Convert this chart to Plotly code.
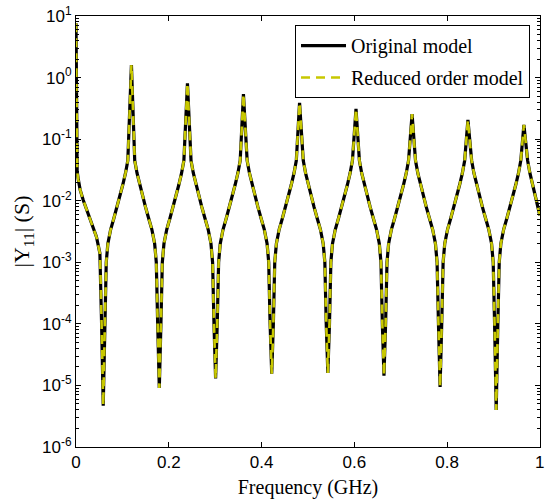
import plotly.graph_objects as go

# |Y11| of the interconnect versus frequency, listed peak -> trough -> peak
freq_ghz = [
    0.0, 0.0014, 0.0025, 0.005, 0.009, 0.0157, 0.022, 0.030, 0.037, 0.044, 0.0515, 0.0522, 0.0552, 0.0587,
    0.0622, 0.0652, 0.0687, 0.0747, 0.0817, 0.0887, 0.0947, 0.1007, 0.1067, 0.1117, 0.1195,
    0.1266, 0.1316, 0.1376, 0.1436, 0.1496, 0.1566, 0.1636, 0.1696, 0.1731, 0.1761, 0.1796,
    0.1831, 0.1861, 0.1896, 0.1956, 0.2026, 0.2096, 0.2156, 0.2216, 0.2276, 0.2326, 0.2403,
    0.248, 0.253, 0.259, 0.265, 0.271, 0.278, 0.285, 0.291, 0.2945, 0.2975, 0.301,
    0.3045, 0.3075, 0.311, 0.317, 0.324, 0.331, 0.337, 0.343, 0.349, 0.354, 0.361,
    0.369, 0.374, 0.380, 0.386, 0.392, 0.399, 0.406, 0.412, 0.4155, 0.4185, 0.422,
    0.4255, 0.4285, 0.432, 0.438, 0.445, 0.452, 0.458, 0.464, 0.470, 0.475, 0.482,
    0.490, 0.495, 0.501, 0.507, 0.513, 0.520, 0.527, 0.533, 0.5365, 0.5395, 0.543,
    0.5465, 0.5495, 0.553, 0.559, 0.566, 0.573, 0.579, 0.585, 0.591, 0.596, 0.6037,
    0.611, 0.616, 0.622, 0.628, 0.634, 0.641, 0.648, 0.654, 0.6575, 0.6605, 0.664,
    0.6675, 0.6705, 0.674, 0.680, 0.687, 0.694, 0.700, 0.706, 0.712, 0.717, 0.7246,
    0.732, 0.737, 0.743, 0.749, 0.755, 0.762, 0.769, 0.775, 0.7785, 0.7815, 0.785,
    0.7885, 0.7915, 0.795, 0.801, 0.808, 0.815, 0.821, 0.827, 0.833, 0.838, 0.845,
    0.853, 0.858, 0.864, 0.870, 0.876, 0.883, 0.890, 0.896, 0.8995, 0.9025, 0.906,
    0.9095, 0.9125, 0.916, 0.922, 0.929, 0.936, 0.942, 0.948, 0.954, 0.959, 0.9657,
    0.9737, 0.9787, 0.9847, 0.9907, 1.0,
]

y11_original = [
    7.6, 0.046, 0.030, 0.022, 0.015, 0.0102, 0.0075, 0.0055, 0.0038, 0.0026, 0.0014, 0.0010, 1.0e-4, 4.7e-6,
    1.0e-4, 0.0010, 0.0020, 0.0034, 0.0052, 0.008, 0.012, 0.018, 0.028, 0.045, 1.6,
    0.045, 0.028, 0.018, 0.012, 0.008, 0.0052, 0.0034, 0.0020, 0.0010, 1.0e-4, 9.1e-6,
    1.0e-4, 0.0010, 0.0020, 0.0034, 0.0052, 0.008, 0.012, 0.018, 0.028, 0.045, 0.81,
    0.045, 0.028, 0.018, 0.012, 0.008, 0.0052, 0.0034, 0.0020, 0.0010, 1.0e-4, 1.3e-5,
    1.0e-4, 0.0010, 0.0020, 0.0034, 0.0052, 0.008, 0.012, 0.018, 0.028, 0.045, 0.54,
    0.045, 0.028, 0.018, 0.012, 0.008, 0.0052, 0.0034, 0.0020, 0.0010, 1.0e-4, 1.55e-5,
    1.0e-4, 0.0010, 0.0020, 0.0034, 0.0052, 0.008, 0.012, 0.018, 0.028, 0.045, 0.39,
    0.045, 0.028, 0.018, 0.012, 0.008, 0.0052, 0.0034, 0.0020, 0.0010, 1.0e-4, 1.6e-5,
    1.0e-4, 0.0010, 0.0020, 0.0034, 0.0052, 0.008, 0.012, 0.018, 0.028, 0.045, 0.31,
    0.045, 0.028, 0.018, 0.012, 0.008, 0.0052, 0.0034, 0.0020, 0.0010, 1.0e-4, 1.44e-5,
    1.0e-4, 0.0010, 0.0020, 0.0034, 0.0052, 0.008, 0.012, 0.018, 0.028, 0.045, 0.254,
    0.045, 0.028, 0.018, 0.012, 0.008, 0.0052, 0.0034, 0.0020, 0.0010, 1.0e-4, 9.4e-6,
    1.0e-4, 0.0010, 0.0020, 0.0034, 0.0052, 0.008, 0.012, 0.018, 0.028, 0.045, 0.205,
    0.045, 0.028, 0.018, 0.012, 0.008, 0.0052, 0.0034, 0.0020, 0.0010, 1.0e-4, 4.0e-6,
    1.0e-4, 0.0010, 0.0020, 0.0034, 0.0052, 0.008, 0.012, 0.018, 0.028, 0.045, 0.17,
    0.045, 0.028, 0.018, 0.011, 0.0058,
]

# the reduced order model overlays the original response
y11_reduced = list(y11_original)

x_ticks = [0, 0.2, 0.4, 0.6, 0.8, 1]
x_tick_labels = ["0", "0.2", "0.4", "0.6", "0.8", "1"]
y_exponents = [-6, -5, -4, -3, -2, -1, 0, 1]

y_ticks = [10.0 ** e for e in y_exponents]
y_tick_labels = ["10<sup>%d</sup>" % e for e in y_exponents]
y_minor = [m * 10.0 ** e for e in y_exponents[:-1] for m in range(2, 10)]

SERIF = "Liberation Serif, Times New Roman, serif"
SANS = "Liberation Sans Narrow, Liberation Sans, Arial, sans-serif"

fig = go.Figure()
fig.add_trace(go.Scatter(
    x=freq_ghz, y=y11_original, mode="lines", name="Original model",
    line=dict(color="black", width=3.2), legendgroup="a",
))
# drawn against the right-hand twin axis (same log range) so that edge gets its ticks
fig.add_trace(go.Scatter(
    x=freq_ghz, y=y11_reduced, mode="lines", name="Reduced order model", yaxis="y2",
    line=dict(color="#c8c800", width=2.6, dash="9px,6px"), legendgroup="b",
))

tick_style = dict(
    ticks="inside", tickcolor="black", ticklen=5, tickwidth=1,
    showgrid=False, zeroline=False, automargin=False,
    tickfont=dict(family=SANS, size=17, color="black"),
)

fig.update_layout(
    xaxis=dict(
        range=[0, 1.0004], tickvals=x_ticks, ticktext=x_tick_labels,
        showline=True, linecolor="black", linewidth=1, mirror="ticks",
        ticklabeloverflow="allow",
        title=dict(text="Frequency (GHz)", font=dict(family=SERIF, size=20, color="black"), standoff=8),
        **tick_style,
    ),
    yaxis=dict(
        type="log", range=[-6, 1], tickvals=y_ticks, ticktext=y_tick_labels,
        showline=True, linecolor="black", linewidth=1, mirror=True,
        minor=dict(tickvals=y_minor, ticks="inside", ticklen=3, tickcolor="black", tickwidth=1),
        title=dict(text="|Y<sub>11</sub>| (S)", font=dict(family=SERIF, size=22, color="black"), standoff=6),
        **tick_style,
    ),
    yaxis2=dict(
        type="log", range=[-6, 1], tickvals=y_ticks, overlaying="y", side="right",
        showticklabels=False, showline=False,
        minor=dict(tickvals=y_minor, ticks="inside", ticklen=3, tickcolor="black", tickwidth=1),
        **tick_style,
    ),
    width=545, height=504,
    margin=dict(l=76, r=5, t=16, b=57),
    plot_bgcolor="white", paper_bgcolor="white",
    legend=dict(
        x=0.472, y=0.979, xanchor="left", yanchor="top",
        bgcolor="white", bordercolor="black", borderwidth=1,
        font=dict(family=SERIF, size=20, color="black"),
        tracegroupgap=3, itemwidth=45,
    ),
)

fig.write_html("out.html")
